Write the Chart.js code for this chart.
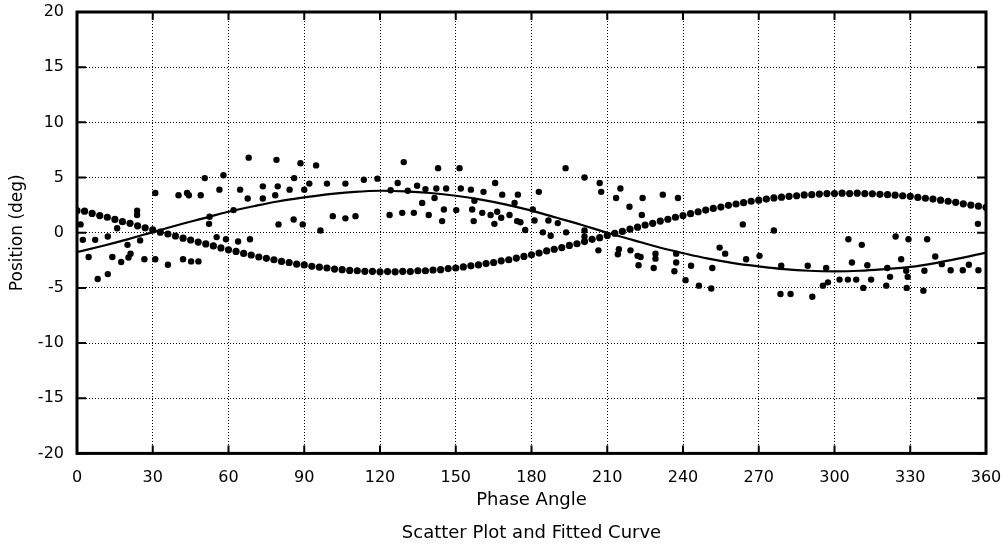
<!DOCTYPE html>
<html>
<head>
<meta charset="utf-8">
<script src="https://cdn.jsdelivr.net/npm/chart.js@4/dist/chart.umd.min.js"></script>
<style>
html,body{margin:0;padding:0;background:#fff;}
#wrap{width:1005px;height:549px;}
</style>
</head>
<body>
<div id="wrap"><canvas id="c" width="1005" height="549"></canvas></div>
<script>
// Fitted curve
const fitAngle = [0,10,20,30,40,50,60,70,80,90,100,110,120,130,140,150,160,170,180,190,200,210,220,230,240,250,260,270,280,290,300,310,320,330,340,350,360];
const fitPos = [-1.75,-1.2,-0.6,0.05,0.7,1.3,1.9,2.4,2.85,3.2,3.5,3.7,3.8,3.75,3.6,3.35,3.0,2.55,2.0,1.35,0.7,0.0,-0.65,-1.3,-1.85,-2.35,-2.75,-3.05,-3.3,-3.45,-3.5,-3.45,-3.3,-3.1,-2.75,-2.3,-1.8];

// Dense band of measured points
const bandAngle = [0,3,6,9,12,15,18,21,24,27,30,33,36,39,42,45,48,51,54,57,60,63,66,69,72,75,78,81,84,87,90,93,96,99,102,105,108,111,114,117,120,123,126,129,132,135,138,141,144,147,150,153,156,159,162,165,168,171,174,177,180,183,186,189,192,195,198,201,204,207,210,213,216,219,222,225,228,231,234,237,240,243,246,249,252,255,258,261,264,267,270,273,276,279,282,285,288,291,294,297,300,303,306,309,312,315,318,321,324,327,330,333,336,339,342,345,348,351,354,357,360];
const bandPos = [2.0,1.95,1.75,1.55,1.4,1.2,1.0,0.85,0.62,0.45,0.25,0.05,-0.12,-0.3,-0.5,-0.66,-0.85,-1.02,-1.2,-1.38,-1.55,-1.7,-1.88,-2.02,-2.2,-2.32,-2.45,-2.6,-2.7,-2.85,-2.92,-3.05,-3.12,-3.2,-3.3,-3.35,-3.42,-3.45,-3.5,-3.5,-3.55,-3.52,-3.55,-3.5,-3.52,-3.45,-3.45,-3.38,-3.35,-3.25,-3.2,-3.1,-3.0,-2.92,-2.8,-2.7,-2.55,-2.45,-2.3,-2.15,-2.0,-1.85,-1.65,-1.5,-1.35,-1.15,-1.0,-0.8,-0.6,-0.45,-0.25,-0.05,0.12,0.32,0.5,0.7,0.85,1.05,1.22,1.4,1.55,1.72,1.9,2.05,2.2,2.32,2.48,2.6,2.72,2.85,2.95,3.05,3.15,3.22,3.3,3.35,3.42,3.45,3.5,3.55,3.55,3.58,3.55,3.58,3.55,3.52,3.48,3.45,3.4,3.35,3.3,3.2,3.12,3.05,2.95,2.85,2.75,2.62,2.5,2.4,2.3];

// Scattered measured points
const scatterAngle = [1.4,2.3,7.2,12.2,4.6,14,17.5,20.4,21.2,8.2,12.2,20,25,26.7,31,36,42,45.2,48.1,15.9,23.8,23.8,31,40.2,43.6,44.3,49,50.6,56.4,58,52.5,52.3,55.3,59,63.8,68.5,62,
68,79,88.5,94.7,86,64.6,73.6,79.5,84.2,90,92,99,106.3,113.6,119,67.6,73.6,78.5,79.8,85.8,89.4,96.4,101.3,106.3,110.3,
129.4,143,151.5,127,134.7,165.6,124.2,131,138,142.3,146.2,152,156,161,168.4,174.6,136.7,141.6,157.4,173.3,123.8,128.8,133.4,139.3,145.3,144.6,150.2,156.5,157.1,160.5,163.8,166.4,168,165.3,171.3,174.3,175.6,177.5,
193.5,201,207,207.6,182.9,215.2,213.5,218.8,223.7,224,232,238,180.5,181.2,186.7,190.4,184.5,187.6,193.7,201,201,206.5,214.6,214.2,219.2,222,223.2,222.4,228.4,229.1,229.1,237.3,237.3,236.6,
263.7,276,243.2,241,246.3,251.2,251.6,254.5,256.7,265,270.3,278.6,282.6,291.2,278.9,289.4,296.7,295.4,
356.8,305.5,310.8,324.2,329.3,336.7,306.9,313,326.4,339.9,342.5,320.9,346,350.8,353.2,357,335.6,302,305.3,308.6,314.5,322,328.4,329,311.4,320.5,328.6,335.2,297.4];
const scatterPos = [0.75,-0.65,-0.65,-0.35,-2.2,-2.2,-2.65,-2.25,-1.9,-4.2,-3.75,-1.1,-0.7,-2.4,-2.4,-2.9,-2.4,-2.6,-2.6,0.4,2.0,1.6,3.6,3.4,3.6,3.4,3.4,4.95,3.9,5.2,1.45,0.8,-0.4,-0.6,-0.8,-0.6,2.05,
6.8,6.6,6.3,6.1,4.95,3.9,4.2,4.2,3.9,3.9,4.45,4.45,4.45,4.8,4.9,3.1,3.1,3.4,0.75,1.2,0.75,0.2,1.5,1.3,1.5,
6.4,5.85,5.85,4.5,4.25,4.5,3.85,3.8,3.95,4.0,4.0,4.0,3.9,3.7,3.45,3.45,2.7,3.15,2.9,2.7,1.6,1.8,1.8,1.6,2.1,1.05,2.05,2.1,1.05,1.8,1.6,1.9,1.35,0.8,1.6,1.05,0.95,0.25,
5.85,5.0,4.5,3.7,3.7,4.0,3.15,2.35,1.6,3.15,3.45,3.15,2.1,1.1,1.1,0.87,0.03,-0.27,0.03,0.2,-0.35,-1.6,-1.5,-1.95,-1.6,-2.1,-2.2,-2.95,-3.2,-1.9,-2.35,-1.9,-2.7,-3.5,
0.75,0.2,-3.0,-4.3,-4.8,-5.05,-3.2,-1.35,-1.9,-2.4,-2.1,-5.55,-5.55,-5.8,-3.0,-3.0,-3.2,-4.8,
0.8,-0.6,-1.1,-0.35,-0.6,-0.6,-2.7,-2.95,-2.4,-2.15,-2.85,-3.2,-3.4,-3.4,-2.9,-3.4,-3.45,-4.25,-4.25,-4.25,-4.25,-4.0,-3.45,-4.0,-5.0,-4.8,-5.0,-5.25,-4.5];

const xMin = 0, xMax = 360, xStep = 30;
const yMin = -20, yMax = 20, yStep = 5;

const FONT = 'DejaVu Sans';

function pairs(xs, ys){ return xs.map((v,i)=>({x:v, y:ys[i]})); }

const framePlugin = {
  id: 'frame',
  afterDatasetsDraw(chart){
    const {ctx, chartArea:a, scales:{x, y}} = chart;
    ctx.save();
    ctx.strokeStyle = '#000';
    ctx.lineWidth = 2;
    x.ticks.forEach(t => {
      const px = x.getPixelForValue(t.value);
      ctx.beginPath();
      ctx.moveTo(px, a.bottom); ctx.lineTo(px, a.bottom - 8);
      ctx.moveTo(px, a.top); ctx.lineTo(px, a.top + 8);
      ctx.stroke();
    });
    y.ticks.forEach(t => {
      const py = y.getPixelForValue(t.value);
      ctx.beginPath();
      ctx.moveTo(a.left, py); ctx.lineTo(a.left + 9, py);
      ctx.moveTo(a.right, py); ctx.lineTo(a.right - 9, py);
      ctx.stroke();
    });
    ctx.lineWidth = 3;
    ctx.strokeRect(a.left, a.top, a.right - a.left, a.bottom - a.top);
    ctx.restore();
  }
};

new Chart(document.getElementById('c'), {
  type: 'scatter',
  data: {
    datasets: [
      {
        type: 'line',
        label: 'Fitted Curve',
        data: pairs(fitAngle, fitPos),
        borderColor: '#000',
        borderWidth: 2.2,
        pointRadius: 0,
        tension: 0.4,
        fill: false
      },
      {
        label: 'Band',
        data: pairs(bandAngle, bandPos),
        backgroundColor: '#000',
        borderColor: '#000',
        borderWidth: 0,
        pointRadius: 3.6
      },
      {
        label: 'Scatter',
        data: pairs(scatterAngle, scatterPos),
        backgroundColor: '#000',
        borderColor: '#000',
        borderWidth: 0,
        pointRadius: 3.2
      }
    ]
  },
  options: {
    responsive: false,
    animation: false,
    layout: { padding: { top: 12, right: 19, left: 0, bottom: 0 } },
    plugins: {
      legend: { display: false },
      tooltip: { enabled: false },
      title: {
        display: true,
        position: 'bottom',
        fullSize: false,
        text: 'Scatter Plot and Fitted Curve',
        color: '#000',
        font: { family: FONT, size: 18, weight: 'normal' },
        padding: { top: 6, bottom: 5 }
      }
    },
    scales: {
      x: {
        type: 'linear',
        min: xMin, max: xMax,
        ticks: { stepSize: xStep, color: '#000', font: { family: FONT, size: 16 }, padding: 0, maxRotation: 0 },
        grid: { color: '#000', lineWidth: 1, drawTicks: true, tickLength: 15, tickColor: 'rgba(0,0,0,0)' },
        border: { display: false, dash: [1, 2] },
        title: { display: true, text: 'Phase Angle', color: '#000', font: { family: FONT, size: 18 }, padding: { top: 0, bottom: 5 } },
        afterFit(s){ s.height = 63; }
      },
      y: {
        type: 'linear',
        min: yMin, max: yMax,
        ticks: { stepSize: yStep, color: '#000', font: { family: FONT, size: 16 }, padding: 0 },
        grid: { color: '#000', lineWidth: 1, drawTicks: true, tickLength: 13, tickColor: 'rgba(0,0,0,0)' },
        border: { display: false, dash: [1, 2] },
        title: { display: true, text: 'Position (deg)', color: '#000', font: { family: FONT, size: 17 }, padding: { top: 7, bottom: 0 } },
        afterFit(s){ s.width = 77; }
      }
    }
  },
  plugins: [framePlugin]
});
</script>
</body>
</html>
